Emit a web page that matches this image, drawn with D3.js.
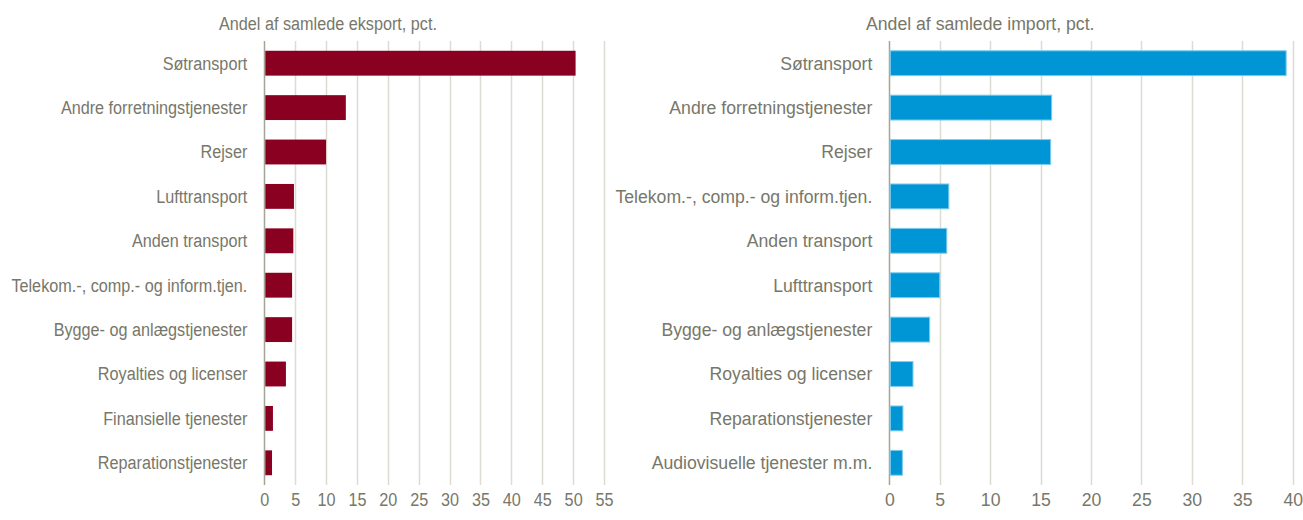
<!DOCTYPE html>
<html>
<head>
<meta charset="utf-8">
<script src="https://cdn.jsdelivr.net/npm/d3@7"></script>
<style>
  body { margin: 0; background: #fff; }
  svg text { font-family: "Liberation Sans Narrow", "Arial Narrow", "Liberation Sans", sans-serif; fill: #77776a; }
</style>
</head>
<body>
<svg width="1303" height="520"></svg>
<script>
var exportCats = ["Søtransport", "Andre forretningstjenester", "Rejser", "Lufttransport", "Anden transport ",
  "Telekom.-, comp.- og inform.tjen.", "Bygge- og anlægstjenester", "Royalties og licenser",
  "Finansielle tjenester", "Reparationstjenester"];
var exportVals = [50.4, 13.2, 10.0, 4.8, 4.7, 4.5, 4.5, 3.5, 1.4, 1.25];

var importCats = ["Søtransport", "Andre forretningstjenester", "Rejser", "Telekom.-, comp.- og inform.tjen.",
  "Anden transport ", "Lufttransport", "Bygge- og anlægstjenester", "Royalties og licenser",
  "Reparationstjenester", "Audiovisuelle tjenester m.m."];
var importVals = [39.35, 16.1, 16.0, 5.9, 5.7, 5.0, 4.0, 2.35, 1.35, 1.3];

var exportTicks = d3.range(0, 56, 5);
var importTicks = d3.range(0, 41, 5);

var svg = d3.select("svg");

// reference font is condensed, squeeze the glyphs horizontally
function narrow(sel, k) {
  sel.each(function() {
    var w = this.getComputedTextLength();
    d3.select(this).attr("textLength", w * k).attr("lengthAdjust", "spacingAndGlyphs");
  });
}

function panel(opts) {
  var g = svg.append("g");
  var x = d3.scaleLinear().domain([0, opts.max]).range([opts.x0, opts.x1]);
  var y = d3.scaleBand().domain(opts.cats).range([41, 485]).paddingInner(0.44).paddingOuter(0.22);

  // gridlines
  g.selectAll(".grid")
    .data(opts.ticks)
    .enter().append("line")
      .attr("x1", function(d) { return Math.round(x(d)) + 0.5; })
      .attr("x2", function(d) { return Math.round(x(d)) + 0.5; })
      .attr("y1", 41)
      .attr("y2", 485)
      .attr("stroke", function(d) { return d === 0 ? "#a5a596" : "#dcdcd2"; })
      .attr("stroke-width", 1.5);

  // bars
  g.selectAll(".bar")
    .data(opts.vals)
    .enter().append("rect")
      .attr("x", x(0) + 1)
      .attr("y", function(d, i) { return y(opts.cats[i]); })
      .attr("width", function(d) { return x(d) - x(0) - 1; })
      .attr("height", y.bandwidth())
      .attr("fill", opts.color)
      .attr("stroke", opts.stroke)
      .attr("stroke-width", opts.stroke === "none" ? 0 : 1);

  // category labels
  g.selectAll(".cat")
    .data(opts.cats)
    .enter().append("text")
      .attr("x", x(0) - 17)
      .attr("y", function(d) { return y(d) + y.bandwidth() / 2; })
      .attr("dy", "0.35em")
      .attr("text-anchor", "end")
      .style("font-size", "18px")
      .text(function(d) { return d; })
      .call(narrow, opts.squeeze);

  // tick labels
  var axis = d3.axisBottom(x).tickValues(opts.ticks).tickSize(0).tickPadding(0);
  var ag = g.append("g").attr("transform", "translate(0,500)").call(axis);
  ag.select(".domain").remove();
  ag.selectAll("text")
    .attr("dy", "0.35em")
    .style("font-size", "18px")
    .style("fill", "#77776a")
    .style("font-family", "\"Liberation Sans Narrow\", \"Arial Narrow\", \"Liberation Sans\", sans-serif")
    .call(narrow, opts.squeeze);

  g.append("text")
    .attr("x", opts.titleX)
    .attr("y", 30)
    .style("font-size", "18px")
    .text(opts.title)
    .call(narrow, opts.squeeze);
}

panel({ cats: exportCats, vals: exportVals, ticks: exportTicks, max: 55, x0: 264.3, x1: 604, squeeze: 0.9,
  color: "#8a0021", stroke: "none", title: "Andel af samlede eksport, pct.", titleX: 219 });
panel({ cats: importCats, vals: importVals, ticks: importTicks, max: 40, x0: 889.3, x1: 1292.7, squeeze: 0.98,
  color: "#0096d6", stroke: "#7fcbee", title: "Andel af samlede import, pct.", titleX: 866 });
</script>
</body>
</html>
